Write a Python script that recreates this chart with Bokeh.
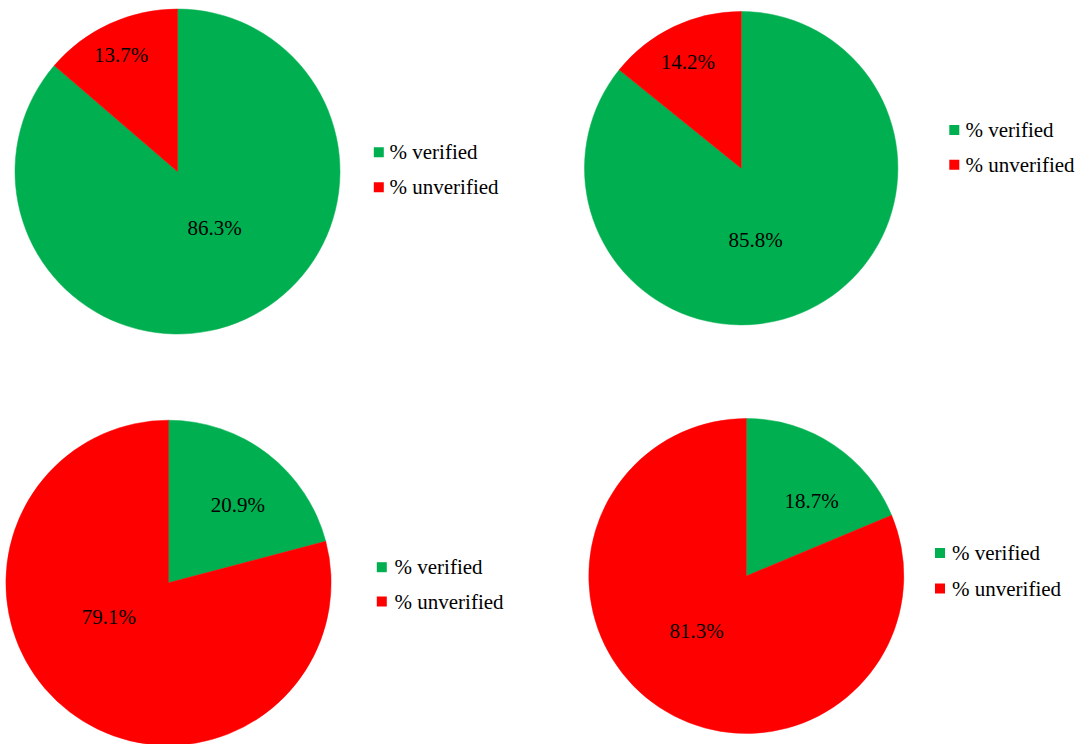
import math
from bokeh.plotting import figure
from bokeh.models import Range1d, ColumnDataSource
from bokeh.core.properties import value
from bokeh.embed import file_html
from bokeh.resources import INLINE

# ---- data ----
series = ["% verified", "% unverified"]
verified_pct = [86.3, 85.8, 20.9, 18.7]
unverified_pct = [13.7, 14.2, 79.1, 81.3]

# ---- style / layout ----
COLORS = ["#00B050", "#FF0000"]
FONT = "'Liberation Serif', 'Times New Roman', serif"
W, H = 1090, 744
centers = [(177, 171), (740.7, 167.7), (168, 582.3), (745.8, 575.5)]  # screen px
radii = [162.5, 156.7, 162.6, 157.5]
# label offsets from pie center (screen px): (verified, unverified)
label_offsets = [
    ((37, 56.7), (-56.3, -117)),
    ((14.3, 71.6), (-53.4, -106.7)),
    ((69.3, -78), (-59.7, 34.4)),
    ((65.2, -75.5), (-49.8, 54.5)),
]
legend_marker_x = [378.3, 953.8, 381.3, 939.5]
legend_text_x = [389, 965, 394, 951.5]
legend_row_y = [(151.7, 186.7), (129.5, 164.3), (566.7, 601), (552.5, 588)]

p = figure(width=W, height=H, output_backend="svg", toolbar_location=None,
           x_range=Range1d(0, W), y_range=Range1d(0, H), min_border=0)
p.axis.visible = False
p.xgrid.visible = False
p.ygrid.visible = False
p.outline_line_color = None
p.background_fill_color = "white"

def sy(y):
    return H - y

for i in range(4):
    cx, cy = centers[i]
    vals = [verified_pct[i], unverified_pct[i]]
    total = sum(vals)
    starts, ends = [], []
    a = math.pi / 2
    for v in vals:
        starts.append(a)
        a = a - v / total * 2 * math.pi
        ends.append(a)
    src = ColumnDataSource(dict(x=[cx, cx], y=[sy(cy), sy(cy)], s=starts, e=ends, c=COLORS))
    p.wedge(x="x", y="y", radius=radii[i], start_angle="s", end_angle="e",
            direction="clock", fill_color="c", line_color="c", line_width=0.5, source=src)

    lx = [cx + label_offsets[i][k][0] for k in range(2)]
    ly = [sy(cy + label_offsets[i][k][1]) for k in range(2)]
    txt = [f"{v:.1f}%" for v in vals]
    p.text(x=lx, y=ly, text=txt, text_font=value(FONT), text_font_size="21px",
           text_align="center", text_baseline="middle", text_color="black")

    my = [sy(legend_row_y[i][0]), sy(legend_row_y[i][1])]
    p.rect(x=[legend_marker_x[i]] * 2, y=my, width=10, height=10,
           fill_color=COLORS, line_color=None)
    p.text(x=[legend_text_x[i]] * 2, y=my, text=series, text_font=value(FONT),
           text_font_size="21px", text_align="left", text_baseline="middle",
           text_color="black")

open("out.html", "w").write(file_html(p, INLINE))
